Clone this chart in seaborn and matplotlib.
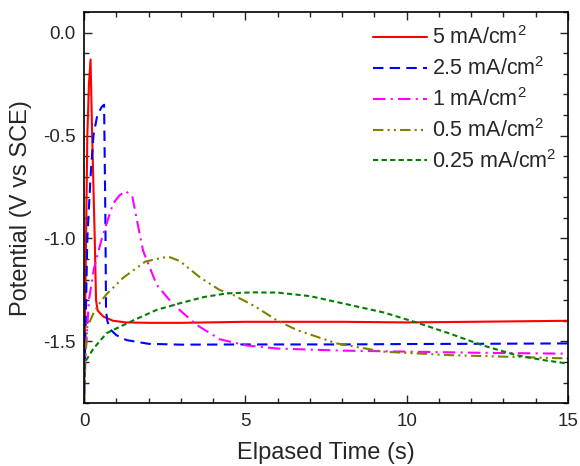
import numpy as np
import pandas as pd
import matplotlib
matplotlib.use("Agg")
import matplotlib.pyplot as plt
from matplotlib.ticker import MultipleLocator
import seaborn as sns

# ---- data ----
labels = ["5 mA/cm$^2$", "2.5 mA/cm$^2$", "1 mA/cm$^2$", "0.5 mA/cm$^2$", "0.25 mA/cm$^2$"]

red_t = [0, 0.03, 0.06, 0.1, 0.15, 0.2, 0.25, 0.33, 0.37, 0.42, 0.6, 0.9, 1.3, 2, 3, 5, 8, 10, 12, 15]
red_v = [-1.7, -1.4, -1.0, -0.5, -0.25, -0.13, -0.5, -1.0, -1.3, -1.35, -1.38, -1.40, -1.408, -1.41,
         -1.41, -1.405, -1.405, -1.408, -1.405, -1.40]

blue_t = [0, 0.05, 0.1, 0.2, 0.29, 0.41, 0.55, 0.62, 0.66, 0.68, 0.72, 0.8, 1.0, 1.32, 2.0, 3, 5, 8,
          10, 12, 15]
blue_v = [-1.75, -1.4, -1.0, -0.7, -0.5, -0.4, -0.36, -0.35, -0.9, -1.35, -1.4, -1.44, -1.47, -1.494,
          -1.512, -1.516, -1.515, -1.515, -1.513, -1.512, -1.51]

mag_t = [0, 0.05, 0.15, 0.3, 0.55, 0.9, 1.1, 1.3, 1.5, 1.65, 1.83, 2.25, 2.76, 3.49, 4.21, 5.04, 6, 7,
         8, 10, 12, 15]
mag_v = [-1.78, -1.55, -1.3, -1.15, -1.0, -0.83, -0.79, -0.77, -0.8, -0.92, -1.06, -1.225, -1.32, -1.42,
         -1.49, -1.52, -1.535, -1.54, -1.545, -1.55, -1.555, -1.56]

olive_t = [0, 0.03, 0.1, 0.3, 0.5, 0.7, 1.22, 1.9, 2.61, 2.97, 3.6, 4.2, 4.63, 5.3, 6.0, 6.6, 7.83,
           9.27, 11.34, 13.4, 15]
olive_v = [-1.8, -1.6, -1.43, -1.36, -1.31, -1.27, -1.19, -1.112, -1.088, -1.11, -1.19, -1.25, -1.275,
           -1.33, -1.4, -1.445, -1.51, -1.55, -1.567, -1.576, -1.583]

green_t = [0, 0.03, 0.29, 0.7, 1.43, 2.25, 2.97, 3.7, 4.42, 5.2, 6.0, 7, 8.24, 9.3, 10.3, 11.3, 12.37,
           13.4, 14.2, 15]
green_v = [-1.8, -1.6, -1.535, -1.46, -1.405, -1.347, -1.315, -1.285, -1.267, -1.262, -1.263, -1.28,
           -1.323, -1.36, -1.408, -1.46, -1.52, -1.567, -1.59, -1.608]

colors = ["#ff0000", "#0000ff", "#ff00ff", "#808000", "#008000"]
styles = ["-", (0, (5, 3)), (0, (6, 2.5, 1, 2.5)), (0, (5, 2, 1, 2, 1, 2)), (0, (2.5, 1.6))]

series = [(red_t, red_v), (blue_t, blue_v), (mag_t, mag_v), (olive_t, olive_v), (green_t, green_v)]

sns.set_style("ticks")
plt.rcParams["font.family"] = ["Liberation Sans", "DejaVu Sans"]
plt.rcParams["mathtext.default"] = "regular"
plt.rcParams["axes.unicode_minus"] = False

fig = plt.figure(figsize=(5.8, 4.66), dpi=100)
ax = fig.add_axes([0.145, 0.135, 0.834, 0.839])

for (t, v), lab, c, ls in zip(series, labels, colors, styles):
    df = pd.DataFrame({"t": t, "v": v})
    sns.lineplot(data=df, x="t", y="v", ax=ax, color=c, linestyle=ls, linewidth=1.5,
                 label=lab, estimator=None, sort=True)

ax.set_xlim(0, 15)
ax.set_ylim(-1.8, 0.1)
ax.xaxis.set_major_locator(MultipleLocator(5))
ax.xaxis.set_minor_locator(MultipleLocator(1))
ax.yaxis.set_major_locator(MultipleLocator(0.5))
ax.yaxis.set_minor_locator(MultipleLocator(0.1))
ax.yaxis.set_major_formatter(matplotlib.ticker.FormatStrFormatter("%.1f"))
ax.tick_params(which="both", direction="in", top=True, right=True, labelsize=13.5, width=1)
ax.tick_params(which="major", length=6)
ax.tick_params(which="minor", length=3.5)
ax.tick_params(axis="x", which="major", pad=7)
ax.tick_params(axis="y", which="major", pad=6)
for s in ax.spines.values():
    s.set_linewidth(1.2)
    s.set_color("black")

ax.set_xlabel("Elpased Time (s)", fontsize=17, labelpad=9)
ax.set_ylabel("Potential (V vs SCE)", fontsize=17, labelpad=8)

leg = ax.legend(loc="upper right", frameon=False, fontsize=15.5, handlelength=2.5,
                labelspacing=0.37, handletextpad=0.25, borderaxespad=0.0,
                bbox_to_anchor=(0.995, 0.985))

fig.savefig("out.png", dpi=100)
